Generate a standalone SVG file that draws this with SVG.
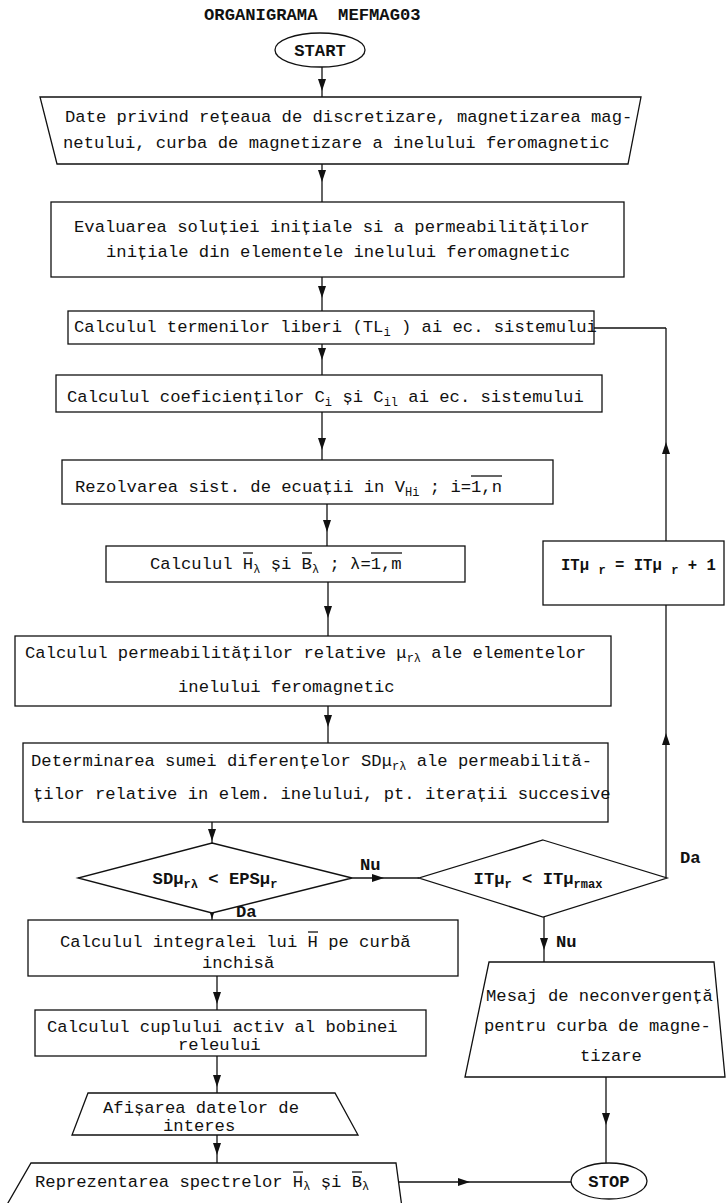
<svg xmlns="http://www.w3.org/2000/svg" width="726" height="1203" viewBox="0 0 726 1203">
  <defs>
    <marker id="ah" viewBox="0 0 12 8" refX="12" refY="4" markerWidth="12" markerHeight="8" markerUnits="userSpaceOnUse" orient="auto">
      <path d="M0,0 L12,4 L0,8 Z" fill="#111"/>
    </marker>
    <style>
      .shape { fill: #fff; stroke: #111; stroke-width: 1.3; }
      .ln { fill: none; stroke: #111; stroke-width: 1.3; }
      .arr { fill: none; stroke: #111; stroke-width: 1.3; marker-mid: url(#ah); }
      .t { font-family: "Liberation Mono", "DejaVu Sans Mono", monospace; font-size: 17.2px; fill: #111; }
      .b { font-weight: bold; }
      .s { font-size: 12px; }
      .m { text-anchor: middle; }
      .ov { stroke: #111; stroke-width: 1.3; }
    </style>
  </defs>
  <rect width="726" height="1203" fill="#fff"/>

  <text class="t b" x="204" y="20" style="white-space:pre">ORGANIGRAMA  MEFMAG03</text>

  <!-- connectors -->
  <g id="connectors">
    <path class="arr" d="M322,67 L322,91 L322,97"/>
    <path class="arr" d="M322,164 L322,182 L322,202"/>
    <path class="arr" d="M322,277 L322,298 L322,311"/>
    <path class="arr" d="M322,344 L322,360 L322,375"/>
    <path class="arr" d="M322,412 L322,450 L322,460"/>
    <path class="arr" d="M327,504 L327,532 L327,546"/>
    <path class="arr" d="M328,582 L328,618 L328,636"/>
    <path class="arr" d="M328,706 L328,727 L328,743"/>
    <path class="arr" d="M212,822 L212,841 L212,843"/>
    <path class="arr" d="M212,913 L212,919 L212,920"/>
    <path class="arr" d="M217,976 L217,1004 L217,1010"/>
    <path class="arr" d="M217,1056 L217,1087 L217,1093"/>
    <path class="arr" d="M217,1135 L217,1155 L217,1163"/>
    <path class="arr" d="M352,878 L384,878 L419,878"/>
    <path class="arr" d="M544,917 L544,950 L544,962"/>
    <path class="arr" d="M606,1077 L606,1125 L606,1163"/>
    <path class="arr" d="M399,1182 L470,1182 L571,1182"/>
    <path class="arr" d="M666,878 L666,733 L666,605"/>
    <path class="arr" d="M666,541 L666,442 L666,328"/>
    <path class="ln" d="M666,328 L594,328"/>
  </g>

  <g id="start">
    <ellipse class="shape" cx="320" cy="50" rx="45" ry="17"/>
    <text class="t b m" x="320" y="56">START</text>
  </g>

  <g id="date-intrare">
    <polygon class="shape" points="40,97 641,97 628,164 57,164"/>
    <text class="t" x="65" y="122">Date privind rețeaua de discretizare, magnetizarea mag-</text>
    <text class="t" x="63" y="148">netului, curba de magnetizare a inelului feromagnetic</text>
  </g>

  <g id="evaluare-initiala">
    <rect class="shape" x="51" y="202" width="573" height="75"/>
    <text class="t" x="74" y="232">Evaluarea soluției inițiale si a permeabilităților</text>
    <text class="t" x="106" y="257">inițiale din elementele inelului feromagnetic</text>
  </g>

  <g id="termeni-liberi">
    <rect class="shape" x="68" y="311" width="526" height="33"/>
    <text class="t" x="74" y="332">Calculul termenilor liberi (TL<tspan class="s" dy="4">i</tspan><tspan dy="-4"> ) ai ec. sistemului</tspan></text>
  </g>

  <g id="coeficienti">
    <rect class="shape" x="56" y="375" width="546" height="37"/>
    <text class="t" x="67" y="402">Calculul coeficienților C<tspan class="s" dy="4">i</tspan><tspan dy="-4"> și C</tspan><tspan class="s" dy="4">il</tspan><tspan dy="-4"> ai ec. sistemului</tspan></text>
  </g>

  <g id="rezolvare">
    <rect class="shape" x="62" y="460" width="491" height="44"/>
    <text class="t" x="75" y="492">Rezolvarea sist. de ecuații in V<tspan class="s" dy="4">Hi</tspan><tspan dy="-4"> ; i=1,n</tspan></text>
    <line class="ov" x1="471" y1="476" x2="502" y2="476"/>
  </g>

  <g id="calcul-h-b">
    <rect class="shape" x="106" y="546" width="359" height="36"/>
    <text class="t" x="150" y="569">Calculul H<tspan class="s" dy="4">λ</tspan><tspan dy="-4"> și B</tspan><tspan class="s" dy="4">λ</tspan><tspan dy="-4"> ; λ=1,m</tspan></text>
    <line class="ov" x1="243" y1="553" x2="253" y2="553"/>
    <line class="ov" x1="302" y1="553" x2="312" y2="553"/>
    <line class="ov" x1="371" y1="553" x2="402" y2="553"/>
  </g>

  <g id="permeabilitati">
    <rect class="shape" x="15" y="636" width="596" height="70"/>
    <text class="t" x="25" y="658">Calculul permeabilităților relative μ<tspan class="s" dy="4">rλ</tspan><tspan dy="-4"> ale elementelor</tspan></text>
    <text class="t" x="178" y="692">inelului feromagnetic</text>
  </g>

  <g id="suma-diferente">
    <rect class="shape" x="23" y="743" width="585" height="79"/>
    <text class="t" x="31" y="766">Determinarea sumei diferențelor SDμ<tspan class="s" dy="4">rλ</tspan><tspan dy="-4"> ale permeabilită-</tspan></text>
    <text class="t" x="33" y="799">ților relative in elem. inelului, pt. iterații succesive</text>
  </g>

  <g id="test-convergenta">
    <polygon class="shape" points="212,843 352,878 212,913 78,878"/>
    <text class="t b m" x="215" y="884">SDμ<tspan class="s" dy="4">rλ</tspan><tspan dy="-4"> &lt; EPSμ</tspan><tspan class="s" dy="4">r</tspan></text>
    <text class="t b" x="360" y="870">Nu</text>
    <text class="t b" x="236" y="917">Da</text>
  </g>

  <g id="test-iteratii">
    <polygon class="shape" points="543,840 667,878 543,917 419,878"/>
    <text class="t b m" x="538" y="884">ITμ<tspan class="s" dy="4">r</tspan><tspan dy="-4"> &lt; ITμ</tspan><tspan class="s" dy="4">rmax</tspan></text>
    <text class="t b" x="680" y="863">Da</text>
    <text class="t b" x="556" y="947">Nu</text>
  </g>

  <g id="incrementare">
    <rect class="shape" x="543" y="541" width="181" height="64"/>
    <text class="t b" x="561" y="570" style="white-space:pre;font-size:15.6px">ITμ <tspan class="s" dy="4">r</tspan><tspan dy="-4"> = ITμ </tspan><tspan class="s" dy="4">r</tspan><tspan dy="-4"> + 1</tspan></text>
  </g>

  <g id="integrala">
    <rect class="shape" x="28" y="920" width="430" height="56"/>
    <text class="t" x="60" y="947">Calculul integralei lui H pe curbă</text>
    <line class="ov" x1="308" y1="932" x2="318" y2="932"/>
    <text class="t" x="202" y="968">inchisă</text>
  </g>

  <g id="cuplu">
    <rect class="shape" x="35" y="1010" width="391" height="46"/>
    <text class="t" x="47" y="1032">Calculul cuplului activ al bobinei</text>
    <text class="t" x="178" y="1050">releului</text>
  </g>

  <g id="afisare">
    <polygon class="shape" points="88,1093 335,1093 358,1135 72,1135"/>
    <text class="t" x="103" y="1113">Afișarea datelor de</text>
    <text class="t" x="163" y="1131">interes</text>
  </g>

  <g id="reprezentare">
    <polygon class="shape" points="31,1163 396,1163 403,1215 1,1215"/>
    <text class="t" x="35" y="1187">Reprezentarea spectrelor H<tspan class="s" dy="3">λ</tspan><tspan dy="-3"> și B</tspan><tspan class="s" dy="3">λ</tspan></text>
    <line class="ov" x1="293" y1="1172" x2="303" y2="1172"/>
    <line class="ov" x1="352" y1="1172" x2="362" y2="1172"/>
  </g>

  <g id="mesaj">
    <polygon class="shape" points="489,962 714,962 725,1077 465,1077"/>
    <text class="t" x="486" y="1001">Mesaj de neconvergență</text>
    <text class="t" x="484" y="1031">pentru curba de magne-</text>
    <text class="t" x="580" y="1061">tizare</text>
  </g>

  <g id="stop">
    <ellipse class="shape" cx="609" cy="1181" rx="38" ry="18"/>
    <text class="t b m" x="609" y="1187">STOP</text>
  </g>
</svg>
